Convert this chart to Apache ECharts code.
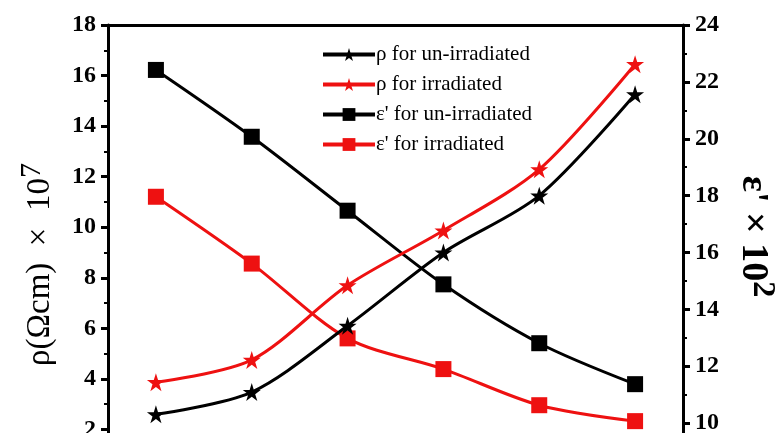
<!DOCTYPE html>
<html>
<head>
<meta charset="utf-8">
<script src="https://cdn.jsdelivr.net/npm/echarts@6/dist/echarts.min.js"></script>
<style>
  html, body { margin: 0; padding: 0; background: #fff; }
  #chart { width: 781px; height: 433px; }
</style>
</head>
<body>
<div id="chart"></div>
<script>
// Sample positions along the x axis
const samples = ['1', '2', '3', '4', '5', '6'];

// Resistivity, ρ (×10^7 Ωcm) — left axis
const rhoUnirradiated = [2.6, 3.48, 6.1, 9.0, 11.25, 15.26];
const rhoIrradiated   = [3.87, 4.75, 7.7, 9.87, 12.29, 16.45];

// Dielectric constant, ε' (×10^2) — right axis
const epsUnirradiated = [22.42, 20.07, 17.47, 14.88, 12.81, 11.37];
const epsIrradiated   = [17.96, 15.61, 12.98, 11.9, 10.63, 10.07];

// Left axis ticks 0..18 step 2, right axis ticks 8..24 step 2
const leftAxisRange  = [0, 18, 2];
const rightAxisRange = [8, 24, 2];

const BLACK = '#000000';
const RED = '#ee1111';
const SERIF = '"Liberation Serif", "DejaVu Serif", serif';
const STAR = 'path://M100,0 L122.45,69.1 L195.1,69.1 L136.3,111.8 L158.8,180.9 L100,138.2 L41.2,180.9 L63.7,111.8 L4.9,69.1 L77.55,69.1 Z';

const chart = echarts.init(document.getElementById('chart'), null, { renderer: 'canvas' });

function lineSeries(name, data, color, symbol, size, yIndex) {
  return {
    name: name,
    type: 'line',
    yAxisIndex: yIndex,
    data: data,
    smooth: 0.3,
    symbol: symbol,
    symbolSize: size,
    showAllSymbol: true,
    lineStyle: { color: color, width: 3 },
    itemStyle: { color: color, borderColor: color, borderWidth: 0 },
    emphasis: { disabled: true },
    z: yIndex === 0 ? 3 : 2
  };
}

const axisCommon = {
  axisLine: { show: true, lineStyle: { color: BLACK, width: 3 } },
  axisTick: { show: true, inside: false, length: 7, lineStyle: { color: BLACK, width: 3 } },
  minorTick: { show: true, splitNumber: 2, length: 4, lineStyle: { color: BLACK, width: 2 } },
  splitLine: { show: false },
  axisLabel: {
    color: BLACK, fontFamily: SERIF, fontWeight: 'bold', fontSize: 24, margin: 12
  }
};

chart.setOption({
  animation: false,
  backgroundColor: '#ffffff',
  grid: {
    left: 108, top: 25, width: 575, height: 455,
    containLabel: false,
    outerBoundsMode: 'none'
  },
  legend: {
    orient: 'vertical',
    left: 316,
    top: 39,
    itemWidth: 52,
    itemHeight: 16,
    itemGap: 9,
    lineStyle: { width: 4 },
    textStyle: { color: BLACK, fontFamily: SERIF, fontSize: 21, lineHeight: 19, padding: [0, 0, 0, -4] },
    data: [
      'ρ for un-irradiated',
      'ρ for irradiated',
      "ε' for un-irradiated",
      "ε' for irradiated"
    ]
  },
  xAxis: [
    {
      type: 'category',
      data: samples,
      boundaryGap: true,
      position: 'bottom',
      axisLine: { show: true, lineStyle: { color: BLACK, width: 3 } },
      axisTick: { show: false },
      axisLabel: { show: false },
      splitLine: { show: false }
    },
    {
      type: 'category',
      data: samples,
      boundaryGap: true,
      position: 'top',
      axisLine: { show: true, lineStyle: { color: BLACK, width: 3 } },
      axisTick: { show: false },
      axisLabel: { show: false },
      splitLine: { show: false }
    }
  ],
  yAxis: [
    Object.assign({}, axisCommon, {
      type: 'value',
      position: 'left',
      min: leftAxisRange[0], max: leftAxisRange[1], interval: leftAxisRange[2],
      name: '{m|ρ(Ωcm)  ×  10}{s|7}',
      nameLocation: 'middle',
      nameRotate: 90,
      nameGap: 42,
      nameTextStyle: {
        padding: [0, 24, 0, 0],
        rich: {
          m: { fontFamily: SERIF, fontSize: 33, color: BLACK, lineHeight: 40, verticalAlign: 'bottom' },
          s: { fontFamily: SERIF, fontSize: 30, color: BLACK, lineHeight: 40, verticalAlign: 'top', padding: [0, 0, 14, 0] }
        }
      }
    }),
    Object.assign({}, axisCommon, {
      type: 'value',
      position: 'right',
      min: rightAxisRange[0], max: rightAxisRange[1], interval: rightAxisRange[2],
      name: "{m|ε' × 10}{s|2}",
      nameLocation: 'middle',
      nameRotate: -90,
      nameGap: 50,
      nameTextStyle: {
        padding: [0, 32, 0, 0],
        rich: {
          m: { fontFamily: SERIF, fontSize: 38, fontWeight: 'bold', color: BLACK, lineHeight: 44, verticalAlign: 'bottom' },
          s: { fontFamily: SERIF, fontSize: 32, fontWeight: 'bold', color: BLACK, lineHeight: 44, verticalAlign: 'top', padding: [0, 0, 16, 0] }
        }
      }
    })
  ],
  series: [
    lineSeries('ρ for un-irradiated', rhoUnirradiated, BLACK, STAR, 18, 0),
    lineSeries('ρ for irradiated', rhoIrradiated, RED, STAR, 18, 0),
    lineSeries("ε' for un-irradiated", epsUnirradiated, BLACK, 'rect', 16, 1),
    lineSeries("ε' for irradiated", epsIrradiated, RED, 'rect', 16, 1)
  ]
});
</script>
</body>
</html>
